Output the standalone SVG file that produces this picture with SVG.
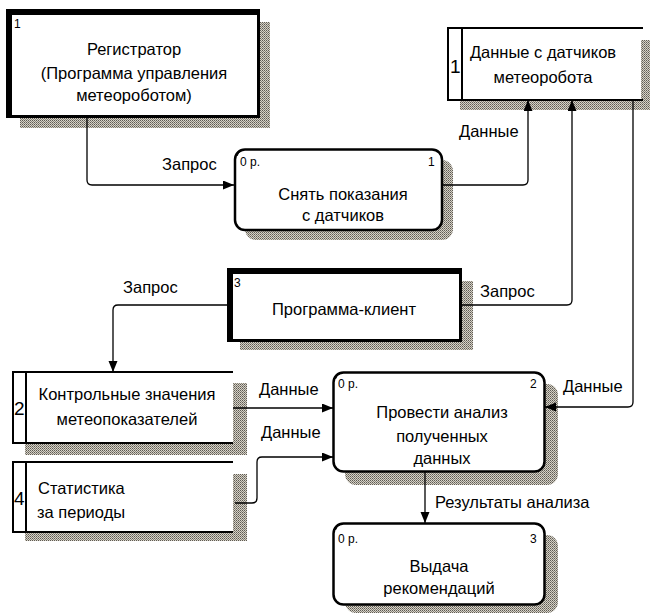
<svg xmlns="http://www.w3.org/2000/svg" width="650" height="613" viewBox="0 0 650 613">
<defs>
<pattern id="hatch" width="2" height="2" patternUnits="userSpaceOnUse">
<rect width="2" height="2" fill="#d6d2c6"/>
<rect x="0" y="0" width="1" height="1" fill="#5e5a54"/>
<rect x="1" y="1" width="1" height="1" fill="#858179"/>
</pattern>
<marker id="arr" markerUnits="userSpaceOnUse" markerWidth="12" markerHeight="10" refX="11" refY="4.5" orient="auto">
<path d="M0,0 L11,4.5 L0,9 z" fill="#000"/>
</marker>
</defs>
<style>
text{font-family:"Liberation Sans",Arial,sans-serif;fill:#000}
.t{font-size:16.5px}
.c{text-anchor:middle}
.s{font-size:12px}
.n{font-size:19px}
.sh{fill:url(#hatch)}
.proc{fill:#fff;stroke:#000;stroke-width:2.5}
.ds{fill:none;stroke:#000;stroke-width:2}
.con path{fill:none;stroke:#000;stroke-width:1.3}
</style>

<!-- Entity 1 -->
<g id="entity1">
<rect class="sh" x="20" y="22" width="250" height="106"/>
<rect x="6" y="9" width="254" height="109" fill="#000"/>
<rect x="12" y="15" width="245" height="100" fill="#fff"/>
<text class="s" x="14" y="28">1</text>
<text class="t c" x="134" y="55">Регистратор</text>
<text class="t c" x="134" y="79">(Программа управления</text>
<text class="t c" x="134" y="101">метеороботом)</text>
</g>

<!-- Data store 1 -->
<g id="store1">
<rect class="sh" x="460" y="40" width="190" height="70"/>
<rect x="448" y="28" width="193" height="72" fill="#fff"/>
<path class="ds" d="M643,28 H448 V100 H643 M462,28 V100"/>
<text class="n" x="450" y="73">1</text>
<text class="t c" x="543" y="58">Данные с датчиков</text>
<text class="t c" x="543" y="83">метеоробота</text>
</g>

<!-- Process 1 -->
<g id="process1">
<rect class="sh" x="245" y="160" width="208" height="80" rx="11"/>
<rect class="proc" x="235" y="149.5" width="207" height="80.5" rx="10"/>
<path d="M237,156 Q238,151 243,150" fill="none" stroke="#000" stroke-width="1"/>
<text class="s" x="240" y="166">0 р.</text>
<text class="s" x="428" y="166">1</text>
<text class="t c" x="343" y="200">Снять показания</text>
<text class="t c" x="343" y="221">с датчиков</text>
</g>

<!-- Entity 3 -->
<g id="entity3">
<rect class="sh" x="240" y="281" width="233" height="69"/>
<rect x="227" y="268" width="235" height="74" fill="#000"/>
<rect x="233" y="274" width="226" height="65" fill="#fff"/>
<text class="s" x="234" y="287">3</text>
<text class="t c" x="344" y="315">Программа-клиент</text>
</g>

<!-- Data store 2 -->
<g id="store2">
<rect class="sh" x="25" y="383" width="222" height="72"/>
<rect x="13" y="372" width="220" height="71" fill="#fff"/>
<path class="ds" d="M233,372 H13 V443 H233 M26,372 V443"/>
<text class="n" x="14" y="415">2</text>
<text class="t c" x="127" y="400">Контрольные значения</text>
<text class="t c" x="127" y="425">метеопоказателей</text>
</g>

<!-- Data store 4 -->
<g id="store4">
<rect class="sh" x="25" y="474" width="222" height="67"/>
<rect x="13" y="462" width="220" height="70" fill="#fff"/>
<path class="ds" d="M233,462 H13 V532 H233 M26,462 V532"/>
<text class="n" x="14" y="505">4</text>
<text class="t" x="38" y="494">Статистика</text>
<text class="t" x="37" y="518">за периоды</text>
</g>

<!-- Process 2 -->
<g id="process2">
<rect class="sh" x="345" y="384" width="213" height="101" rx="11"/>
<rect class="proc" x="333.5" y="372.5" width="211" height="99" rx="10"/>
<path d="M335.5,379 Q336.5,374 341.5,373" fill="none" stroke="#000" stroke-width="1"/>
<text class="s" x="338" y="388">0 р.</text>
<text class="s" x="530" y="388">2</text>
<text class="t c" x="442" y="418">Провести анализ</text>
<text class="t c" x="442" y="442">полученных</text>
<text class="t c" x="442" y="464">данных</text>
</g>

<!-- Process 3 -->
<g id="process3">
<rect class="sh" x="345" y="535" width="213" height="78" rx="11"/>
<rect class="proc" x="333.5" y="523.5" width="211" height="81" rx="10"/>
<path d="M335.5,530 Q336.5,525 341.5,524" fill="none" stroke="#000" stroke-width="1"/>
<text class="s" x="338" y="543">0 р.</text>
<text class="s" x="530" y="543">3</text>
<text class="t c" x="439" y="572">Выдача</text>
<text class="t c" x="439" y="594">рекомендаций</text>
</g>

<!-- Connectors -->
<g id="connectors" class="con">
<path d="M87,118 V180 Q87,185 92,185 H234" marker-end="url(#arr)"/>
<path d="M443,185 H523 Q528,185 528,180 V100" marker-end="url(#arr)"/>
<path d="M462,305 H567 Q572,305 572,300 V100" marker-end="url(#arr)"/>
<path d="M227,305 H118 Q113,305 113,310 V372" marker-end="url(#arr)"/>
<path d="M633,100 V402 Q633,407 628,407 H545" marker-end="url(#arr)"/>
<path d="M233,408 H333" marker-end="url(#arr)"/>
<path d="M235,503 H252 Q257,503 257,498 V462 Q257,457 262,457 H333" marker-end="url(#arr)"/>
<path d="M425,472 V523" marker-end="url(#arr)"/>
</g>

<!-- Connector labels -->
<g id="labels">
<text class="t" x="162" y="170">Запрос</text>
<text class="t" x="459" y="137">Данные</text>
<text class="t" x="123" y="293">Запрос</text>
<text class="t" x="480" y="297">Запрос</text>
<text class="t" x="563" y="392">Данные</text>
<text class="t" x="259" y="395">Данные</text>
<text class="t" x="261" y="438">Данные</text>
<text class="t" x="435" y="508">Результаты анализа</text>
</g>
</svg>
